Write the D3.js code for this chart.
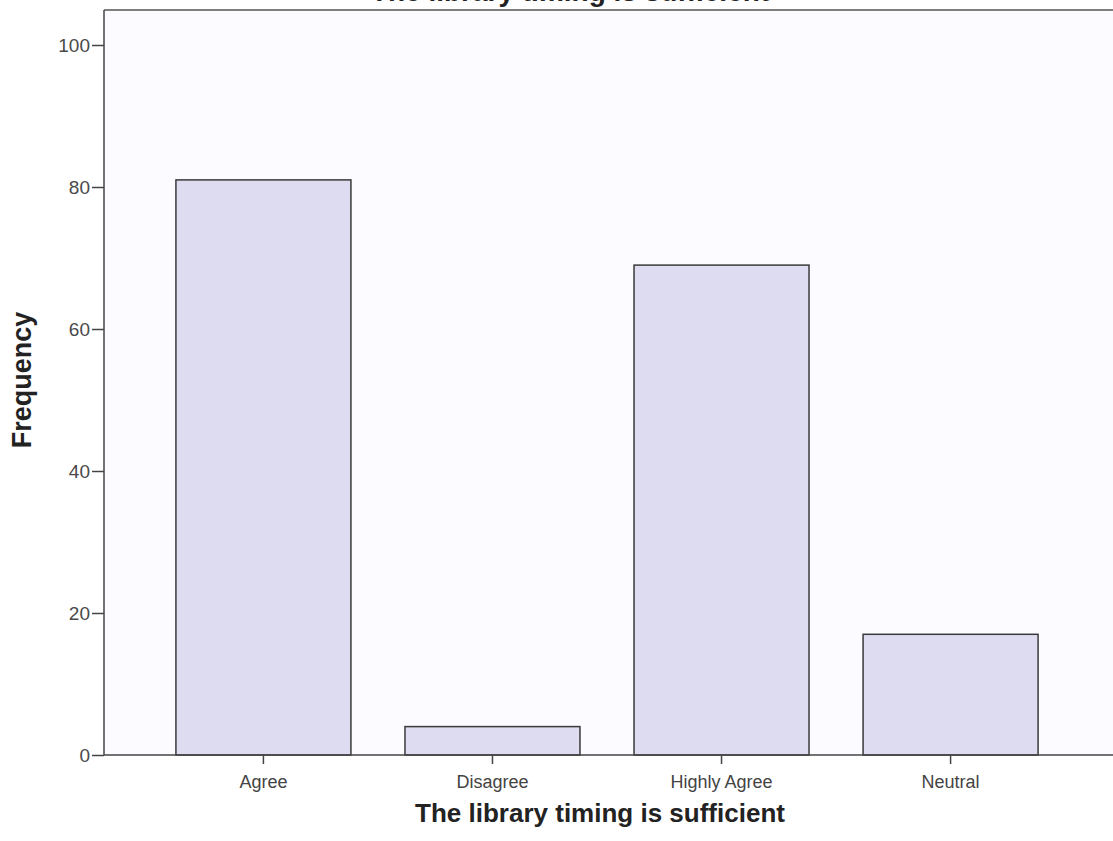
<!DOCTYPE html>
<html><head><meta charset="utf-8">
<script src="https://cdn.jsdelivr.net/npm/d3@7"></script>
<style>body{margin:0;background:#fff}svg{display:block}</style>
</head><body>
<script>
const categories = ["Agree", "Disagree", "Highly Agree", "Neutral"];
const frequencies = [81, 4, 69, 17];
const yTicks = [0, 20, 40, 60, 80, 100];
const chartTitle = "The library timing is sufficient";
const xTitle = "The library timing is sufficient";
const yTitle = "Frequency";

const W = 1113, H = 841;
const FONT = "Liberation Sans, Arial, Helvetica, sans-serif";
const svg = d3.select("body").append("svg").attr("width", W).attr("height", H);
const mLeft = 104, mRight = 1110, mTop = 10, mBottom = 755;

const x = d3.scaleBand().domain(categories).range([mLeft, mRight]).paddingInner(0.236).paddingOuter(0.314);
const y = d3.scaleLinear().domain([0, 100]).range([mBottom, 45]);

// plot background
svg.append("rect").attr("x", mLeft).attr("y", mTop).attr("width", W - mLeft).attr("height", mBottom - mTop).attr("fill", "#fcfbff");

// chart title (cut off at the top edge, as in the reference)
svg.append("text").attr("x", 570).attr("y", 1).attr("text-anchor", "middle")
  .attr("font-family", FONT).attr("font-weight", "bold").attr("font-size", 28)
  .attr("fill", "#222").text(chartTitle);

// top border
svg.append("line").attr("x1", mLeft).attr("x2", W).attr("y1", mTop).attr("y2", mTop).attr("stroke", "#555").attr("stroke-width", 1.5);

// bars
svg.selectAll("rect.bar").data(categories).enter().append("rect").attr("class", "bar")
  .attr("x", d => x(d)).attr("width", x.bandwidth())
  .attr("y", (d, i) => y(frequencies[i])).attr("height", (d, i) => y(0) - y(frequencies[i]))
  .attr("fill", "#dedcf0").attr("stroke", "#3a3a3a").attr("stroke-width", 1.5);

// y axis
const ya = svg.append("g").attr("transform", `translate(${mLeft},0)`)
  .call(d3.axisLeft(y).tickValues(yTicks).tickSize(12).tickPadding(2));
ya.select(".domain").remove();
ya.append("line").attr("x1", 0).attr("x2", 0).attr("y1", mTop).attr("y2", mBottom).attr("stroke", "#444").attr("stroke-width", 1.5);
ya.selectAll(".tick line").attr("stroke", "#444").attr("stroke-width", 1.5);
ya.selectAll(".tick text").attr("font-family", FONT).attr("font-size", 19).attr("fill", "#4a4a4a");

// x axis
const xa = svg.append("g").attr("transform", `translate(0,${mBottom})`)
  .call(d3.axisBottom(x).tickSize(9).tickPadding(11));
xa.select(".domain").remove();
xa.append("line").attr("x1", mLeft).attr("x2", W).attr("y1", 0).attr("y2", 0).attr("stroke", "#444").attr("stroke-width", 1.5);
xa.selectAll(".tick line").attr("stroke", "#444").attr("stroke-width", 1.5);
xa.selectAll(".tick text").attr("font-family", FONT).attr("font-size", 18).attr("fill", "#444");

// axis titles
svg.append("text").attr("x", 600).attr("y", 822).attr("text-anchor", "middle")
  .attr("font-family", FONT).attr("font-weight", "bold").attr("font-size", 26)
  .attr("fill", "#222").text(xTitle);
svg.append("text").attr("transform", "translate(31,380) rotate(-90)").attr("text-anchor", "middle")
  .attr("font-family", FONT).attr("font-weight", "bold").attr("font-size", 27)
  .attr("fill", "#222").text(yTitle);
</script>
</body></html>
